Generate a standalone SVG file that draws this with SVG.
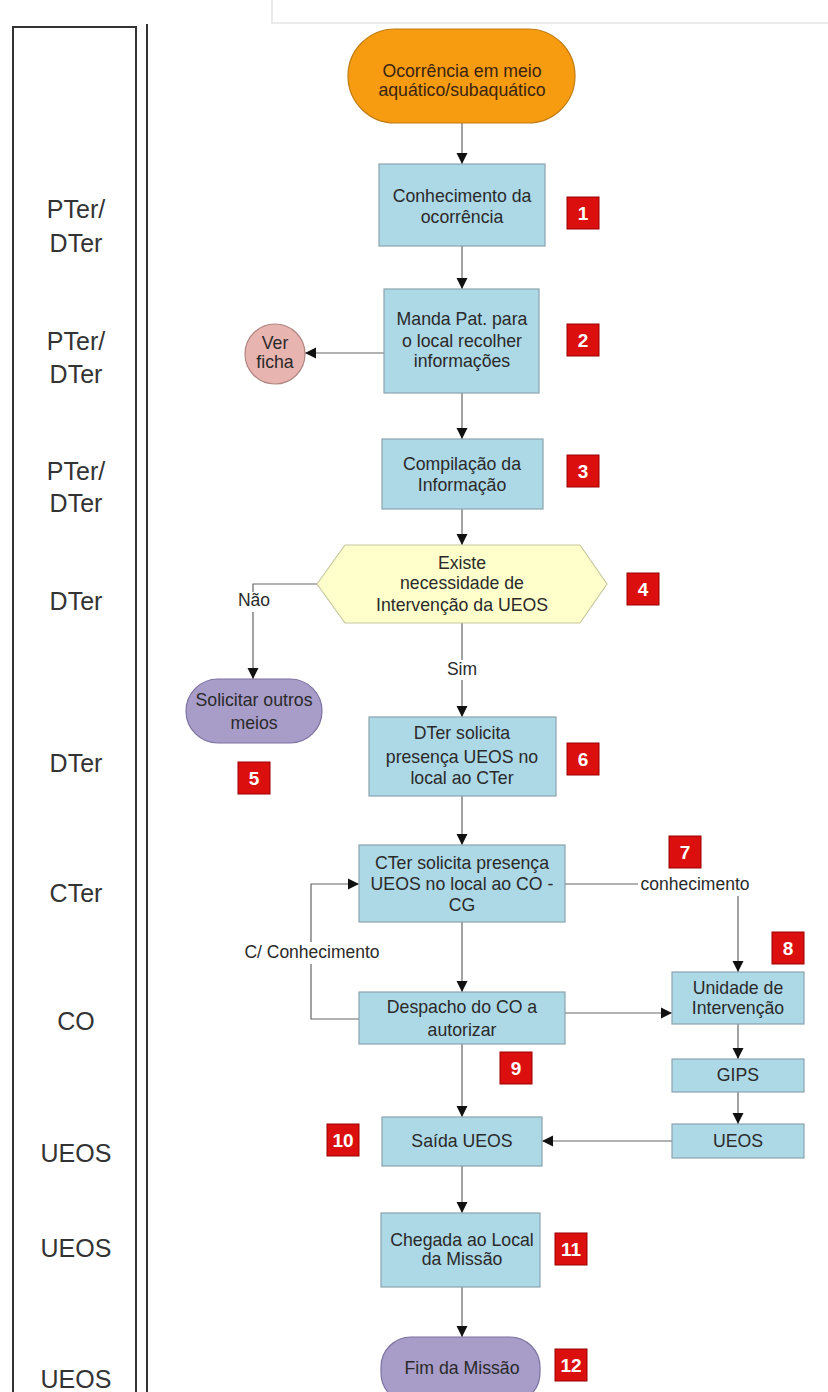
<svg xmlns="http://www.w3.org/2000/svg" width="828" height="1392" viewBox="0 0 828 1392">
<defs>
<marker id="arr" markerUnits="userSpaceOnUse" markerWidth="12" markerHeight="12" refX="11" refY="6" orient="auto">
<path d="M0,0.5 L11,6 L0,11.5 z" fill="#111"/>
</marker>
<style>
text{font-family:"Liberation Sans",Arial,sans-serif;fill:#2a2a2a;text-anchor:middle}
.n{font-size:17.7px}
.lane{font-size:25px;fill:#333}
.lbl{font-size:17.5px}
.box{fill:#add8e6;stroke:#8aa4ae;stroke-width:1.2}
.badge rect{fill:#dc0f0f;stroke:#9a0000;stroke-width:1}
.badge text{font-size:19px;font-weight:bold;fill:#fff}
.c{fill:none;stroke:#666;stroke-width:1.2}
.ca{fill:none;stroke:#666;stroke-width:1.2;marker-end:url(#arr)}
.bg{fill:#fff}
</style>
</defs>
<rect x="0" y="0" width="828" height="1392" fill="#fff"/>
<polyline points="272,0 272,23 828,23" fill="none" stroke="#e4e4e4" stroke-width="1.5"/>

<g id="lanes">
<rect x="13" y="27" width="123" height="1380" fill="none" stroke="#333" stroke-width="2"/>
<line x1="147" y1="24" x2="147" y2="1392" stroke="#333" stroke-width="2"/>
<text class="lane" x="76" y="218">PTer/</text>
<text class="lane" x="76" y="252">DTer</text>
<text class="lane" x="76" y="350">PTer/</text>
<text class="lane" x="76" y="383">DTer</text>
<text class="lane" x="76" y="480">PTer/</text>
<text class="lane" x="76" y="512">DTer</text>
<text class="lane" x="76" y="610">DTer</text>
<text class="lane" x="76" y="772">DTer</text>
<text class="lane" x="76" y="902">CTer</text>
<text class="lane" x="76" y="1030">CO</text>
<text class="lane" x="76" y="1162">UEOS</text>
<text class="lane" x="76" y="1257">UEOS</text>
<text class="lane" x="76" y="1388">UEOS</text>
</g>

<g id="connectors">
<line class="ca" x1="462" y1="123" x2="462" y2="164"/>
<line class="ca" x1="462" y1="246" x2="462" y2="289"/>
<line class="ca" x1="384" y1="353" x2="305" y2="353"/>
<line class="ca" x1="462" y1="393" x2="462" y2="439"/>
<line class="ca" x1="462" y1="509" x2="462" y2="545"/>
<polyline class="ca" points="317,584 253,584 253,679"/>
<line class="ca" x1="462" y1="623" x2="462" y2="717"/>
<line class="ca" x1="462" y1="796" x2="462" y2="845"/>
<polyline class="ca" points="565,884 738,884 738,972"/>
<line class="ca" x1="462" y1="922" x2="462" y2="992"/>
<polyline class="ca" points="359,1019 311,1019 311,884 359,884"/>
<line class="ca" x1="565" y1="1013" x2="672" y2="1013"/>
<line class="ca" x1="738" y1="1024" x2="738" y2="1059"/>
<line class="ca" x1="738" y1="1092" x2="738" y2="1124"/>
<line class="ca" x1="672" y1="1141" x2="542" y2="1141"/>
<line class="ca" x1="462" y1="1044" x2="462" y2="1117"/>
<line class="ca" x1="462" y1="1166" x2="462" y2="1213"/>
<line class="ca" x1="462" y1="1287" x2="462" y2="1337"/>
<rect class="bg" x="236" y="592" width="36" height="20"/>
<text class="lbl" x="254" y="606">Não</text>
<rect class="bg" x="444" y="660" width="36" height="20"/>
<text class="lbl" x="462" y="675">Sim</text>
<rect class="bg" x="638" y="874" width="116" height="22"/>
<text class="lbl" x="695" y="890">conhecimento</text>
<rect class="bg" x="243" y="942" width="139" height="22"/>
<text class="lbl" x="312" y="958">C/ Conhecimento</text>
</g>

<g id="n0">
<rect x="348" y="29" width="227" height="94" rx="47" fill="#f79c10" stroke="#c07a10" stroke-width="1.2"/>
<text class="n" x="462" y="77" style="fill:#3a2410">Ocorrência em meio</text>
<text class="n" x="462" y="96" style="fill:#3a2410">aquático/subaquático</text>
</g>
<g id="n1">
<rect class="box" x="379" y="164" width="166" height="82"/>
<text class="n" x="462" y="202">Conhecimento da</text>
<text class="n" x="462" y="223">ocorrência</text>
</g>
<g id="n2">
<rect class="box" x="384" y="289" width="155" height="104"/>
<text class="n" x="462" y="325">Manda Pat. para</text>
<text class="n" x="462" y="347">o local recolher</text>
<text class="n" x="462" y="367">informações</text>
</g>
<g id="verficha">
<circle cx="275" cy="354" r="30" fill="#e8b4b0" stroke="#b08580" stroke-width="1.2"/>
<text class="n" x="275" y="349">Ver</text>
<text class="n" x="275" y="368">ficha</text>
</g>
<g id="n3">
<rect class="box" x="382" y="439" width="161" height="70"/>
<text class="n" x="462" y="470">Compilação da</text>
<text class="n" x="462" y="491">Informação</text>
</g>
<g id="n4">
<polygon points="317,584 345,545 580,545 607,584 580,623 345,623" fill="#ffffcc" stroke="#c8c8a0" stroke-width="1.2"/>
<text class="n" x="462" y="569">Existe</text>
<text class="n" x="462" y="589">necessidade de</text>
<text class="n" x="462" y="611">Intervenção da UEOS</text>
</g>
<g id="n5">
<rect x="186" y="679" width="136" height="64" rx="32" fill="#a89cc8" stroke="#7d72a0" stroke-width="1.2"/>
<text class="n" x="254" y="706">Solicitar outros</text>
<text class="n" x="254" y="729">meios</text>
</g>
<g id="n6">
<rect class="box" x="369" y="717" width="187" height="79"/>
<text class="n" x="462" y="739">DTer solicita</text>
<text class="n" x="462" y="763">presença UEOS no</text>
<text class="n" x="462" y="784">local ao CTer</text>
</g>
<g id="n7">
<rect class="box" x="359" y="845" width="206" height="77"/>
<text class="n" x="462" y="869">CTer solicita presença</text>
<text class="n" x="462" y="890">UEOS no local ao CO -</text>
<text class="n" x="462" y="911">CG</text>
</g>
<g id="n9">
<rect class="box" x="359" y="992" width="206" height="52"/>
<text class="n" x="462" y="1013">Despacho do CO a</text>
<text class="n" x="462" y="1036">autorizar</text>
</g>
<g id="n8">
<rect class="box" x="672" y="972" width="132" height="52"/>
<text class="n" x="738" y="994">Unidade de</text>
<text class="n" x="738" y="1014">Intervenção</text>
</g>
<g id="gips">
<rect class="box" x="672" y="1059" width="132" height="33"/>
<text class="n" x="738" y="1081">GIPS</text>
</g>
<g id="ueos">
<rect class="box" x="672" y="1124" width="132" height="34"/>
<text class="n" x="738" y="1147">UEOS</text>
</g>
<g id="n10">
<rect class="box" x="382" y="1117" width="160" height="49"/>
<text class="n" x="462" y="1147">Saída UEOS</text>
</g>
<g id="n11">
<rect class="box" x="381" y="1213" width="159" height="74"/>
<text class="n" x="462" y="1246">Chegada ao Local</text>
<text class="n" x="462" y="1265">da Missão</text>
</g>
<g id="n12">
<rect x="381" y="1337" width="159" height="66" rx="30" fill="#a89cc8" stroke="#7d72a0" stroke-width="1.2"/>
<text class="n" x="462" y="1374">Fim da Missão</text>
</g>

<g id="badges" class="badge">
<rect x="567" y="197" width="32" height="32"/><text x="583" y="220">1</text>
<rect x="567" y="324" width="32" height="32"/><text x="583" y="347">2</text>
<rect x="567" y="455" width="32" height="32"/><text x="583" y="478">3</text>
<rect x="627" y="573" width="32" height="32"/><text x="643" y="596">4</text>
<rect x="238" y="762" width="32" height="32"/><text x="254" y="785">5</text>
<rect x="567" y="743" width="32" height="32"/><text x="583" y="766">6</text>
<rect x="669" y="836" width="32" height="32"/><text x="685" y="859">7</text>
<rect x="772" y="932" width="32" height="32"/><text x="788" y="955">8</text>
<rect x="500" y="1052" width="32" height="32"/><text x="516" y="1075">9</text>
<rect x="327" y="1124" width="32" height="32"/><text x="343" y="1147">10</text>
<rect x="555" y="1233" width="32" height="32"/><text x="571" y="1256">11</text>
<rect x="555" y="1349" width="32" height="32"/><text x="571" y="1372">12</text>
</g>
</svg>
